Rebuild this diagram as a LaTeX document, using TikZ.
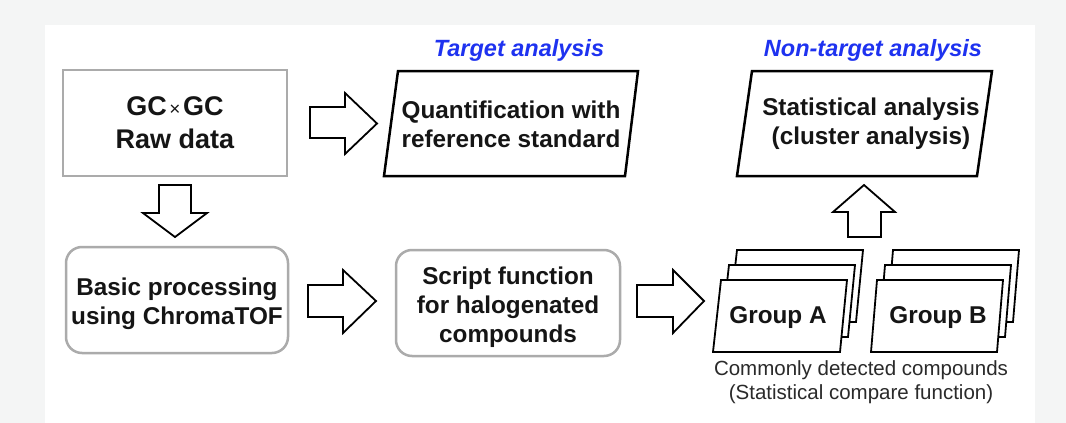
\documentclass[tikz,border=0pt]{standalone}
\usepackage{fontspec}
\setmainfont{Liberation Sans}
\definecolor{bggray}{HTML}{F4F5F5}
\definecolor{boxgray}{HTML}{ABABAB}
\definecolor{titleblue}{HTML}{1E32F0}
\definecolor{txt}{HTML}{151515}
\definecolor{captxt}{HTML}{2A2A2A}
\begin{document}
\begin{tikzpicture}[x=1pt,y=-1pt,
  lbl/.style={font=\fontsize{24.3}{29}\selectfont\bfseries, text=txt, align=center, inner sep=0pt},
  titletext/.style={font=\fontsize{23.5}{28}\selectfont\bfseries\itshape, text=titleblue, inner sep=0pt},
  captext/.style={font=\fontsize{20.5}{24}\selectfont, text=captxt, align=center, inner sep=0pt},
  graybox/.style={draw=boxgray, line width=2.5pt, fill=white},
  blockarrow/.style={draw=black, line width=1.8pt, fill=white, line join=miter},
  para/.style={draw=black, line width=2.5pt, fill=white, line join=miter},
  sheet/.style={draw=black, line width=1.8pt, fill=white, line join=miter}]
\useasboundingbox (0,0) rectangle (1066,423);
\fill[bggray] (0,0) rectangle (1066,423);
\fill[white] (45,25) rectangle (1035,423);

% top-left box
\node[graybox, lbl, font=\fontsize{27}{33}\selectfont\bfseries, minimum width=224pt, minimum height=106pt] (raw) at (175,123)
  {GC{\fontsize{19}{19}\selectfont\mdseries\hspace{2.5pt}×\hspace{2.5pt}}GC\\Raw data};

% parallelogram: quantification
\draw[para] (398,71) -- (638,71) -- (625,176) -- (384,176) -- cycle;
\node[lbl] (quant) at (511,124) {Quantification with\\reference standard};
\node[titletext] (ttarget) at (519,50) {Target analysis};

% parallelogram: statistical
\draw[para] (752,71) -- (992,71) -- (977,176) -- (737,176) -- cycle;
\node[lbl] (stat) at (871,124) {Statistical analysis\\(cluster analysis)};
\node[titletext] (tnon) at (873,50) {Non-target analysis};

% rounded boxes
\node[graybox, rounded corners=16pt, minimum width=222pt, minimum height=106pt] (basic) at (177,300) {};
\node[lbl] (basictext) at (177,304) {Basic processing\\using ChromaTOF};
\node[graybox, rounded corners=16pt, minimum width=224pt, minimum height=106pt] (script) at (508,303) {};
\node[lbl] (scripttext) at (508,307) {Script function\\for halogenated\\compounds};

% group A stack
\draw[sheet] (737,250) -- (863,250) -- (856,322) -- (729,322) -- cycle;
\draw[sheet] (729,265) -- (855,265) -- (848,337) -- (721,337) -- cycle;
\draw[sheet] (721,280) -- (847,280) -- (840,352) -- (713,352) -- cycle;
\node[lbl] (grpA) at (778,318) {Group A};

% group B stack
\draw[sheet] (893,250) -- (1019,250) -- (1013,322) -- (887,322) -- cycle;
\draw[sheet] (885,265) -- (1011,265) -- (1005,337) -- (879,337) -- cycle;
\draw[sheet] (877,280) -- (1003,280) -- (997,352) -- (871,352) -- cycle;
\node[lbl] (grpB) at (938,318) {Group B};

\node[captext] (caption) at (861,382) {Commonly detected compounds\\(Statistical compare function)};

% block arrows
\draw[blockarrow] (310,107) -- (345,107) -- (345,93) -- (377,123.5) -- (345,154) -- (345,138) -- (310,138) -- cycle;
\draw[blockarrow] (159,185) -- (191,185) -- (191,213) -- (207,213) -- (175,237) -- (143,213) -- (159,213) -- cycle;
\draw[blockarrow] (308,285) -- (343,285) -- (343,270) -- (376,301) -- (343,333) -- (343,317) -- (308,317) -- cycle;
\draw[blockarrow] (637,285) -- (673,285) -- (673,270) -- (704,301) -- (673,333) -- (673,317) -- (637,317) -- cycle;
\draw[blockarrow] (848,237) -- (881,237) -- (881,212) -- (895,212) -- (864,185) -- (833,212) -- (848,212) -- cycle;
\end{tikzpicture}
\end{document}
